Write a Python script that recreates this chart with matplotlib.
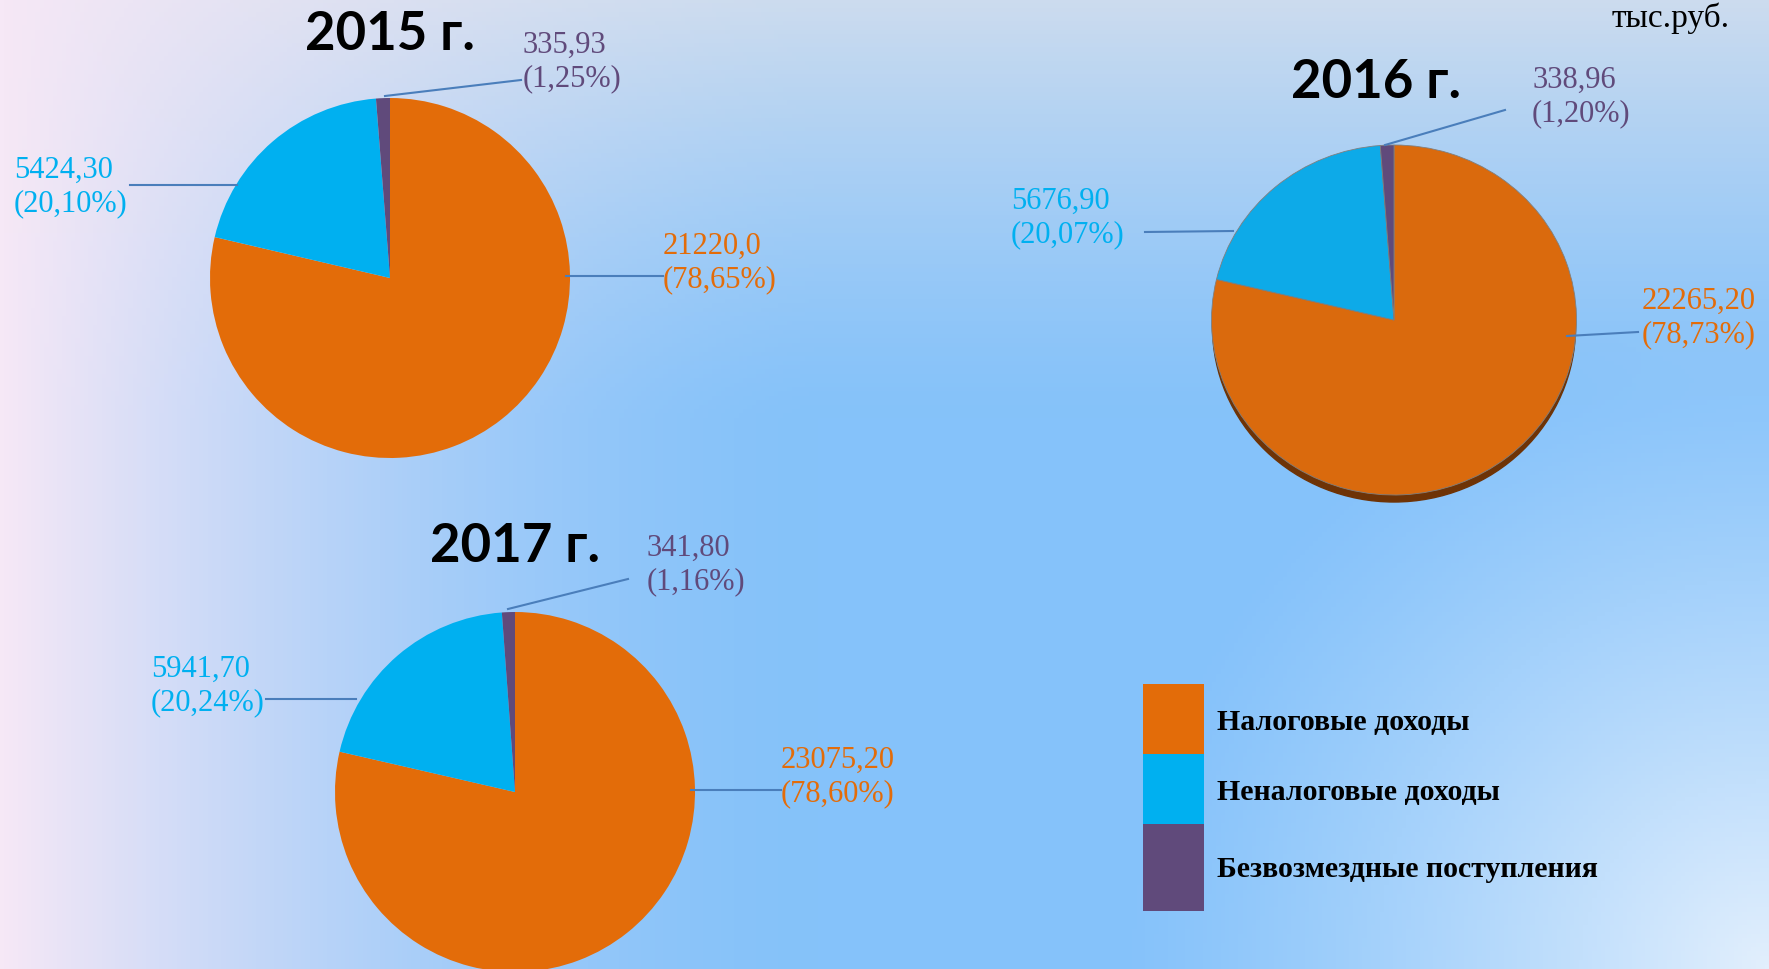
import numpy as np
import matplotlib
matplotlib.use("Agg")
import matplotlib.pyplot as plt
from matplotlib.patches import Rectangle, Ellipse
from matplotlib.transforms import Affine2D

# данные
categories = ["Налоговые доходы", "Неналоговые доходы", "Безвозмездные поступления"]
years = ["2015 г.", "2016 г.", "2017 г."]
values_2015 = [21220.0, 5424.30, 335.93]
values_2016 = [22265.20, 5676.90, 338.96]
values_2017 = [23075.20, 5941.70, 341.80]
value_text_2015 = ["21220,0", "5424,30", "335,93"]
value_text_2016 = ["22265,20", "5676,90", "338,96"]
value_text_2017 = ["23075,20", "5941,70", "341,80"]

colors = ["#E36C09", "#00B0F0", "#604A7B"]

W, H = 1769, 970


def Y(y):
    return H - y


fig = plt.figure(figsize=(W / 100, H / 100), dpi=100)
ax = fig.add_axes([0, 0, 1, 1])

# фон с градиентом
xx, yy = np.meshgrid(np.linspace(0, W, 400), np.linspace(0, H, 220))
img = np.ones((220, 400, 3)) * np.array([133, 194, 250]) / 255
top = np.array([208, 221, 238]) / 255
wt = np.clip(1 - yy / 420, 0, 1)[..., None] ** 1.3 * 0.95
img = img * (1 - wt) + top * wt
pink = np.array([246, 232, 246]) / 255
wp = np.clip(1 - xx / 820, 0, 1)[..., None] ** 1.6
img = img * (1 - wp) + pink * wp
light = np.array([226, 239, 253]) / 255
d = np.sqrt((xx - W) ** 2 + (yy - H) ** 2)
wl = np.clip(1 - d / 650, 0, 1)[..., None] ** 1.2
img = img * (1 - wl) + light * wl
ax.imshow(img, extent=[0, W, 0, H], origin="upper", aspect="auto", zorder=0)

pies = [
    dict(vals=values_2015, texts=value_text_2015, c=(390, 279), r=(180, 180),
         title=(390, 34),
         labels=[(663, 263), (14, 187), (523, 62)],
         leaders=[((566, 277), (663, 277)), ((237, 186), (130, 186)),
                  ((385, 97), (521, 81))]),
    dict(vals=values_2016, texts=value_text_2016, c=(1394, 321), r=(182.5, 175),
         title=(1376, 82),
         labels=[(1642, 318), (1011, 218), (1532, 97)],
         leaders=[((1567, 337), (1638, 333)), ((1233, 232), (1145, 233)),
                  ((1385, 146), (1505, 111))]),
    dict(vals=values_2017, texts=value_text_2017, c=(515, 793), r=(180, 180),
         title=(515, 547),
         labels=[(781, 777), (151, 686), (647, 565)],
         leaders=[((691, 791), (781, 791)), ((356, 700), (266, 700)),
                  ((508, 610), (628, 580))]),
]

for i, p in enumerate(pies):
    cx, cy = p["c"]
    rx, ry = p["r"]
    if i == 1:
        # тень для объёмной диаграммы 2016 г.
        ax.add_patch(Ellipse((cx, Y(cy) - 7), 2 * rx - 2, 2 * ry,
                             color="#6E3306", zorder=1))
        cols = ["#DA6A0D", "#0DAAE8", "#604A7B"]
        wp_ = dict(linewidth=0.6, edgecolor="#7f7f7f")
    else:
        cols = colors
        wp_ = dict(linewidth=0)
    wedges, _ = ax.pie(p["vals"], colors=cols, startangle=90, counterclock=False,
                       center=(0, 0), radius=1, frame=True, wedgeprops=wp_)
    tr = Affine2D().scale(rx, ry).translate(cx, Y(cy)) + ax.transData
    for w in wedges:
        w.set_transform(tr)
        w.set_zorder(2)
    total = sum(p["vals"])
    for j, v in enumerate(p["vals"]):
        pct = f"{v / total * 100:.2f}".replace(".", ",")
        lx, ly = p["labels"][j]
        ax.text(lx, Y(ly), f"{p['texts'][j]}\n({pct}%)", ha="left", va="center",
                fontsize=22, family="Liberation Serif", color=colors[j],
                linespacing=1.18, zorder=4)
        (x0, y0), (x1, y1) = p["leaders"][j]
        ax.plot([x0, x1], [Y(y0), Y(y1)], color="#4A7EBB", lw=1.5, zorder=3)
    tx, ty = p["title"]
    ax.text(tx, Y(ty), years[i], ha="center", va="center", fontsize=38,
            fontweight="bold", family="Lato", color="black", zorder=4)

# единицы измерения
ax.text(1612, Y(27), "тыс.руб.", ha="left", va="baseline", fontsize=24,
        family="Liberation Serif", color="black", zorder=4)

# легенда
box_y = [685, 755, 825, 912]
text_y = [723, 793, 870]
for j, name in enumerate(categories):
    ax.add_patch(Rectangle((1143, Y(box_y[j + 1])), 61, box_y[j + 1] - box_y[j],
                           color=colors[j], lw=0, zorder=3))
    ax.text(1217, Y(text_y[j]), name, ha="left", va="center", fontsize=21.5,
            fontweight="bold", family="Liberation Serif", color="black", zorder=4)

ax.set_xlim(0, W)
ax.set_ylim(0, H)
ax.set_aspect("auto")
ax.axis("off")

fig.savefig("out.png", dpi=100)
